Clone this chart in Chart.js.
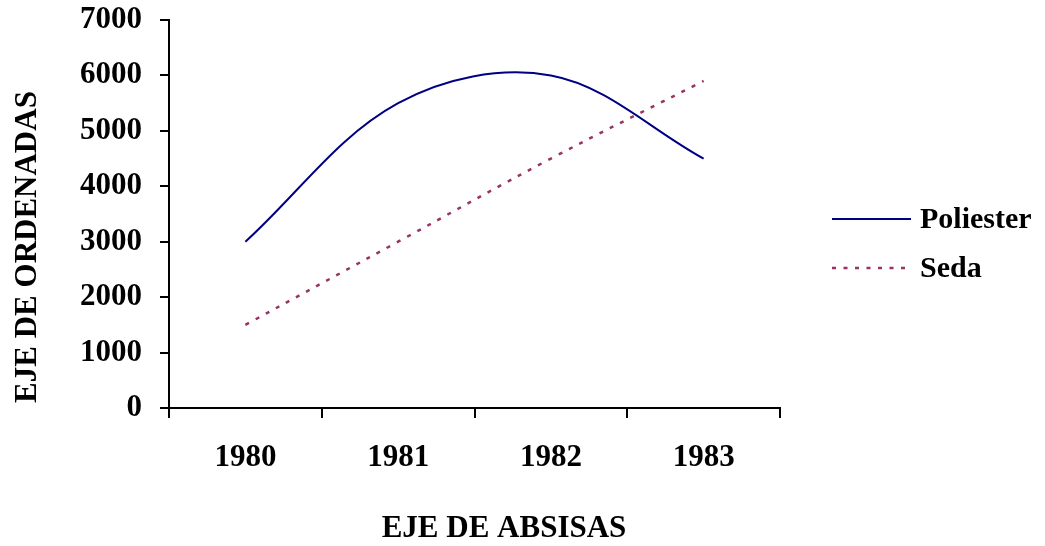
<!DOCTYPE html>
<html>
<head>
<meta charset="utf-8">
<script src="https://cdn.jsdelivr.net/npm/chart.js@4/dist/chart.umd.min.js"></script>
<style>
  html, body { margin: 0; padding: 0; background: #fff; }
</style>
</head>
<body>
<canvas id="grafico" width="1045" height="546"></canvas>
<script>
// datos
const years     = ["1980", "1981", "1982", "1983"];
const poliester = [3000, 5500, 6000, 4500];
const seda      = [1500, 3000, 4500, 5900];
const yMax = 7000, yStep = 1000;

const FONT = '"Liberation Serif", "Times New Roman", serif';

// titulos de ejes + leyenda a mano, para que queden donde en el original
const extras = {
  id: "extras",
  afterDraw(chart) {
    const ctx = chart.ctx;
    ctx.save();
    ctx.fillStyle = "#000";
    ctx.font = "bold 31px " + FONT;
    ctx.textAlign = "center";
    ctx.textBaseline = "middle";

    ctx.fillText("EJE DE ABSISAS", 504, 529);

    ctx.save();
    ctx.translate(28, 247);
    ctx.rotate(-Math.PI / 2);
    ctx.fillText("EJE DE ORDENADAS", 0, 0);
    ctx.restore();

    // leyenda
    ctx.font = "bold 30px " + FONT;
    ctx.textAlign = "left";
    chart.data.datasets.forEach((ds, i) => {
      const y = 219 + i * 49;
      ctx.save();
      ctx.strokeStyle = ds.borderColor;
      ctx.lineWidth = ds.borderWidth;
      ctx.setLineDash(ds.borderDash || []);
      ctx.beginPath();
      ctx.moveTo(832, y);
      ctx.lineTo(911, y);
      ctx.stroke();
      ctx.restore();
      ctx.fillText(ds.label, 920, y + 1);
    });
    ctx.restore();
  }
};

new Chart(document.getElementById("grafico"), {
  type: "line",
  data: {
    labels: years,
    datasets: [
      {
        label: "Poliester",
        data: poliester,
        borderColor: "#000080",
        borderWidth: 2,
        pointRadius: 0,
        tension: 0.35,
        fill: false
      },
      {
        label: "Seda",
        data: seda,
        borderColor: "#993366",
        borderWidth: 2.5,
        borderDash: [4, 7.5],
        pointRadius: 0,
        tension: 0.35,
        fill: false
      }
    ]
  },
  options: {
    responsive: false,
    animation: false,
    devicePixelRatio: 1,
    layout: { padding: { top: 20, right: 265, left: 0, bottom: 0 } },
    plugins: {
      legend: { display: false },
      tooltip: { enabled: false }
    },
    scales: {
      x: {
        offset: true,
        grid: { offset: true, drawOnChartArea: false, tickLength: 10, color: "#000", lineWidth: 2 },
        border: { color: "#000", width: 2 },
        ticks: { color: "#000", font: { family: FONT, size: 31, weight: "bold" }, padding: 21, maxRotation: 0 },
        afterFit: s => { s.height = 546 - 408; s.paddingLeft = 0; s.paddingRight = 0; }
      },
      y: {
        min: 0,
        max: yMax,
        grid: { drawOnChartArea: false, tickLength: 9, color: "#000", lineWidth: 2 },
        border: { color: "#000", width: 2 },
        ticks: {
          stepSize: yStep,
          color: "#000",
          font: { family: FONT, size: 31, weight: "bold" },
          padding: 18,
          callback: v => String(v)
        },
        afterFit: s => { s.width = 169; s.paddingTop = 0; s.paddingBottom = 0; }
      }
    }
  },
  plugins: [extras]
});
</script>
</body>
</html>
